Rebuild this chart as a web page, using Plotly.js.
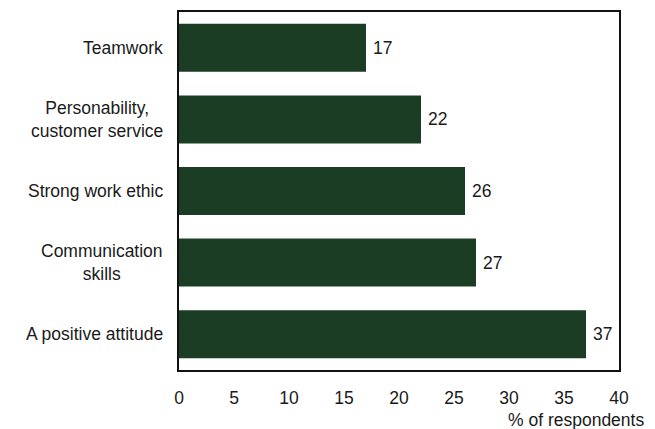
<!DOCTYPE html>
<html>
<head>
<meta charset="utf-8">
<script src="https://cdn.plot.ly/plotly-3.0.1.min.js"></script>
<style>html,body{margin:0;padding:0;background:#fff;}#chart{width:655px;height:429px;}</style>
</head>
<body>
<div id="chart"></div>
<script>
const categories = ["Teamwork", "Personability,<br>customer service", "Strong work ethic", "Communication<br>skills", "A positive attitude"];
const values = [17, 22, 26, 27, 37];
const tickVals = [0, 5, 10, 15, 20, 25, 30, 35, 40];
const axisTitle = "% of respondents";

const FONT = "Liberation Sans, Arial, sans-serif";
const FS = 17.5;
const barColor = "#1a3d24";

const annotations = [];
categories.forEach((c, i) => {
  annotations.push({
    xref: "paper", yref: "y", x: 0, y: c, text: c,
    xanchor: "right", yanchor: "middle", align: "center", xshift: -14,
    showarrow: false, font: {family: FONT, size: FS, color: "#1a1a1a"}
  });
  annotations.push({
    xref: "x", yref: "y", x: values[i], y: c, text: String(values[i]),
    xanchor: "left", yanchor: "middle", xshift: 5,
    showarrow: false, font: {family: FONT, size: FS, color: "#1a1a1a"}
  });
});
annotations.push({
  xref: "paper", yref: "paper", x: 1, y: 0, text: axisTitle,
  xanchor: "right", yanchor: "top", xshift: 27, yshift: -38,
  showarrow: false, font: {family: FONT, size: FS, color: "#1a1a1a"}
});

Plotly.newPlot("chart", [{
  type: "bar", orientation: "h",
  x: values, y: categories,
  marker: {color: barColor, line: {width: 0}},
  hoverinfo: "none"
}], {
  width: 655, height: 429,
  margin: {l: 179, r: 36, t: 12, b: 59, pad: 0},
  paper_bgcolor: "#fff", plot_bgcolor: "#fff",
  showlegend: false,
  bargap: 0.33,
  font: {family: FONT, size: FS, color: "#1a1a1a"},
  xaxis: {
    range: [0, 40], tickvals: tickVals, ticks: "", showgrid: false, zeroline: false,
    showline: true, linecolor: "#111", linewidth: 2, mirror: true,
    ticklabelstandoff: 11, tickfont: {family: FONT, size: FS, color: "#1a1a1a"}
  },
  yaxis: {
    autorange: "reversed", showticklabels: false, ticks: "", showgrid: false, zeroline: false,
    showline: true, linecolor: "#111", linewidth: 2, mirror: true
  },
  annotations: annotations
}, {displayModeBar: false, staticPlot: true});
</script>
</body>
</html>
